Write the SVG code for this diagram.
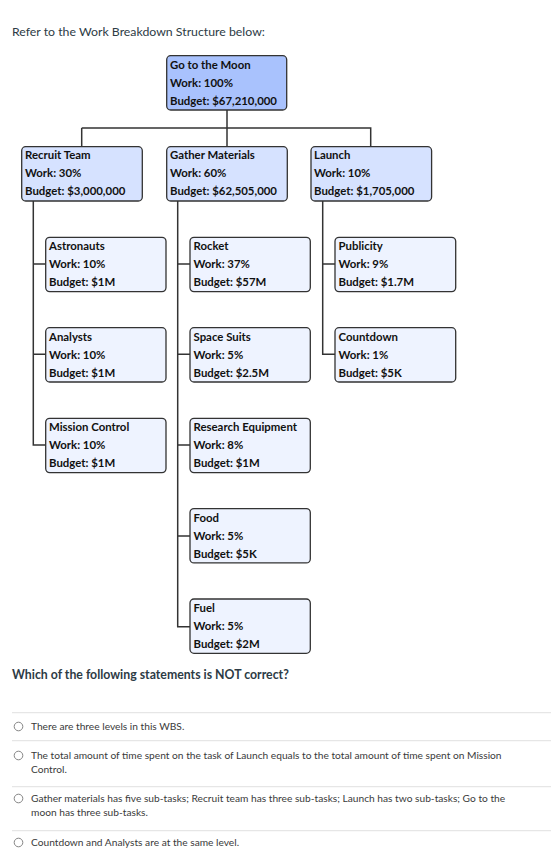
<svg xmlns="http://www.w3.org/2000/svg" width="551" height="864" viewBox="0 0 551 864">
<style>
.bx{stroke:#333;stroke-width:1.3}
.l1{fill:#a9c2fd}
.l2{fill:#d6e2ff}
.l3{fill:#eef3ff}
.nt{font-family:Lato,"Liberation Sans",sans-serif;font-weight:bold;font-size:11.4px;fill:#111}
.cn{fill:none;stroke:#333;stroke-width:1.5}
.hd{font-family:Lato,"Liberation Sans",sans-serif;font-size:12.3px;fill:#2d3b45}
.q{font-family:Lato,"Liberation Sans",sans-serif;font-size:12.3px;font-weight:bold;fill:#2d3b45}
.op{font-family:Lato,"Liberation Sans",sans-serif;font-size:10.2px;fill:#3a3a3a}
.sep{stroke:#e0e0e0;stroke-width:1}
.rd{fill:#fff;stroke:#777;stroke-width:0.9}
</style>
<rect width="551" height="864" fill="#fff"/>
<text class="hd" x="12" y="36">Refer to the Work Breakdown Structure below:</text>
<g id="connectors">
<path class="cn" d="M227 110V128M81.7 128H370.7V146.7M227 128V146.7M81.7 128V146.7"/>
<path class="cn" d="M33.3 201V445H45.7M33.3 264H45.7M33.3 354.3H45.7"/>
<path class="cn" d="M177.7 201V626.7H190M177.7 264H190M177.7 354.3H190M177.7 445H190M177.7 536H190"/>
<path class="cn" d="M322.7 201V354.3H335M322.7 264H335"/>
</g>
<g id="root"><rect class="bx l1" x="166.7" y="55.7" width="120" height="54.3" rx="4"/><text class="nt" x="170" y="69">Go to the Moon</text><text class="nt" x="170" y="87">Work: 100%</text><text class="nt" x="170" y="105">Budget: $67,210,000</text></g>
<g id="recruit"><rect class="bx l2" x="21.7" y="146.7" width="120.6" height="54.3" rx="4"/><text class="nt" x="25" y="159">Recruit Team</text><text class="nt" x="25" y="177">Work: 30%</text><text class="nt" x="25" y="195">Budget: $3,000,000</text></g>
<g id="gather"><rect class="bx l2" x="166.7" y="146.7" width="120.6" height="54.3" rx="4"/><text class="nt" x="170" y="159">Gather Materials</text><text class="nt" x="170" y="177">Work: 60%</text><text class="nt" x="170" y="195">Budget: $62,505,000</text></g>
<g id="launch"><rect class="bx l2" x="311" y="146.7" width="120.6" height="54.3" rx="4"/><text class="nt" x="314" y="159">Launch</text><text class="nt" x="314" y="177">Work: 10%</text><text class="nt" x="314" y="195">Budget: $1,705,000</text></g>
<g id="astronauts"><rect class="bx l3" x="45.7" y="237.3" width="120.3" height="54.3" rx="4"/><text class="nt" x="49" y="250">Astronauts</text><text class="nt" x="49" y="268">Work: 10%</text><text class="nt" x="49" y="286">Budget: $1M</text></g>
<g id="analysts"><rect class="bx l3" x="45.7" y="327.7" width="120.3" height="54.3" rx="4"/><text class="nt" x="49" y="340.5">Analysts</text><text class="nt" x="49" y="358.5">Work: 10%</text><text class="nt" x="49" y="376.5">Budget: $1M</text></g>
<g id="mission"><rect class="bx l3" x="45.7" y="418.3" width="120.3" height="54.3" rx="4"/><text class="nt" x="49" y="431">Mission Control</text><text class="nt" x="49" y="449">Work: 10%</text><text class="nt" x="49" y="467">Budget: $1M</text></g>
<g id="rocket"><rect class="bx l3" x="190" y="237.3" width="120.3" height="54.3" rx="4"/><text class="nt" x="193.5" y="250">Rocket</text><text class="nt" x="193.5" y="268">Work: 37%</text><text class="nt" x="193.5" y="286">Budget: $57M</text></g>
<g id="suits"><rect class="bx l3" x="190" y="327.7" width="120.3" height="54.3" rx="4"/><text class="nt" x="193.5" y="340.5">Space Suits</text><text class="nt" x="193.5" y="358.5">Work: 5%</text><text class="nt" x="193.5" y="376.5">Budget: $2.5M</text></g>
<g id="research"><rect class="bx l3" x="190" y="418.3" width="120.3" height="54.3" rx="4"/><text class="nt" x="193.5" y="431">Research Equipment</text><text class="nt" x="193.5" y="449">Work: 8%</text><text class="nt" x="193.5" y="467">Budget: $1M</text></g>
<g id="food"><rect class="bx l3" x="190" y="508.6" width="120.3" height="54.3" rx="4"/><text class="nt" x="193.5" y="521.5">Food</text><text class="nt" x="193.5" y="539.5">Work: 5%</text><text class="nt" x="193.5" y="557.5">Budget: $5K</text></g>
<g id="fuel"><rect class="bx l3" x="190" y="599" width="120.3" height="54.3" rx="4"/><text class="nt" x="193.5" y="612">Fuel</text><text class="nt" x="193.5" y="630">Work: 5%</text><text class="nt" x="193.5" y="648">Budget: $2M</text></g>
<g id="publicity"><rect class="bx l3" x="335" y="237.3" width="120.7" height="54.3" rx="4"/><text class="nt" x="338.5" y="250">Publicity</text><text class="nt" x="338.5" y="268">Work: 9%</text><text class="nt" x="338.5" y="286">Budget: $1.7M</text></g>
<g id="countdown"><rect class="bx l3" x="335" y="327.7" width="120.7" height="54.3" rx="4"/><text class="nt" x="338.5" y="340.5">Countdown</text><text class="nt" x="338.5" y="358.5">Work: 1%</text><text class="nt" x="338.5" y="376.5">Budget: $5K</text></g>
<text class="q" x="12" y="679">Which of the following statements is NOT correct?</text>
<line class="sep" x1="12" y1="712.7" x2="551" y2="712.7"/>
<line class="sep" x1="12" y1="740.7" x2="551" y2="740.7"/>
<line class="sep" x1="12" y1="786.7" x2="551" y2="786.7"/>
<line class="sep" x1="12" y1="830.7" x2="551" y2="830.7"/>
<circle class="rd" cx="18.5" cy="726.5" r="4.3"/>
<circle class="rd" cx="18.5" cy="755.5" r="4.3"/>
<circle class="rd" cx="18.5" cy="798.5" r="4.3"/>
<circle class="rd" cx="18.5" cy="842.5" r="4.3"/>
<text class="op" x="31" y="730">There are three levels in this WBS.</text>
<text class="op" x="31" y="759">The total amount of time spent on the task of Launch equals to the total amount of time spent on Mission</text>
<text class="op" x="31" y="773">Control.</text>
<text class="op" x="31" y="802">Gather materials has five sub-tasks; Recruit team has three sub-tasks; Launch has two sub-tasks; Go to the</text>
<text class="op" x="31" y="816">moon has three sub-tasks.</text>
<text class="op" x="31" y="846">Countdown and Analysts are at the same level.</text>
</svg>
